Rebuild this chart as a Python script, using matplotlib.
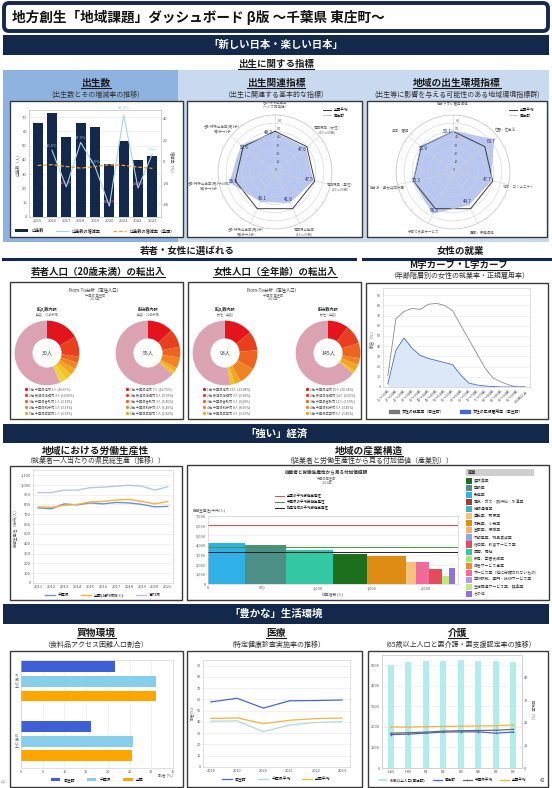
import numpy as np
import matplotlib
matplotlib.use('Agg')
import matplotlib.pyplot as plt
import matplotlib.patches as mpatches
from matplotlib.ticker import FuncFormatter

plt.rcParams['font.family'] = ['Noto Sans CJK JP', 'DejaVu Sans']
plt.rcParams['axes.unicode_minus'] = False

W, H = 552, 788
navy = '#14284b'

# ---------------- data ----------------
birth_years = ['2015', '2016', '2017', '2018', '2019', '2020', '2021', '2022', '2023']
births = [66, 73, 56, 66, 63, 37, 53, 40, 43]
birth_rate = [np.nan, 10.6, -23.3, 17.9, -4.5, -41.3, 43.2, -24.5, 7.5]
birth_rate_japan = [-3.5, -2.8, -4.5, -6.0, -4.5, -2.8, -3.5, -5.0, -6.2]

radar1_labels = ['合計特殊出生率\n（ベイズ推定値）', '有配偶率（女性）\n（25～39歳）', '有配偶率（男性）\n（25～39歳）',
                 '有配偶出生率\n（25～39歳）', '合計特殊出生率(第2子)\n第1子→2子', '合計特殊出生率(第3子以降)\n第2子→3子',
                 '合計特殊出生率(第1子)\n第0子→1子']
radar1_values = [48.2, 47.6, 47.5, 41.6, 40.1, 56.9, 52.6]
radar2_labels = ['働きやすい雇用環境', '住居・住生活', '地域・コミュニティ', '医療・保健環境',
                 '子育て支援サービス', '働き方・男女共同参画', '経済・雇用']
radar2_values = [50.1, 63.7, 47.7, 44.7, 56.3, 50.3, 50.9]
radar_avg = [50, 50, 50, 50, 50, 50, 50]

young_in = [5, 3, 1, 1, 1, 1, 1, 17]
young_out = [7, 5, 3, 3, 1, 1, 35]
female_in = [13, 9, 9, 8, 3, 2, 49]
female_out = [15, 14, 11, 5, 5, 2, 93]
young_in_legend = ['1位 千葉県旭市 5人 (16.67%)', '2位 茨城県神栖市 3人 (10.00%)', '3位 千葉県香取市 1人 (3.33%)',
                   '4位 千葉県銚子市 1人 (3.33%)', '5位 千葉県成田市 1人 (3.33%)']
young_out_legend = ['1位 千葉県旭市 7人 (12.73%)', '2位 茨城県神栖市 5人 (9.09%)', '3位 千葉県香取市 3人 (5.45%)',
                    '4位 千葉県銚子市 3人 (5.45%)', '5位 千葉県成田市 1人 (1.82%)']
female_in_legend = ['1位 千葉県旭市 13人 (13.98%)', '2位 茨城県神栖市 9人 (9.68%)', '3位 千葉県香取市 9人 (9.68%)',
                    '4位 千葉県銚子市 8人 (8.60%)', '5位 千葉県成田市 3人 (3.23%)']
female_out_legend = ['1位 千葉県旭市 15人 (10.34%)', '2位 茨城県神栖市 14人 (9.66%)', '3位 千葉県香取市 11人 (7.59%)',
                     '4位 千葉県銚子市 5人 (3.45%)', '5位 千葉県成田市 5人 (3.45%)']

age_groups = ['15～19歳', '20～24歳', '25～29歳', '30～34歳', '35～39歳', '40～44歳', '45～49歳', '50～54歳',
              '55～59歳', '60～64歳', '65～69歳', '70～74歳', '75～79歳', '80～84歳', '85～89歳', '90～94歳',
              '95～99歳', '100歳以上']
emp_rate = [11, 67, 74, 77, 76, 81, 82, 80, 75, 61, 47, 33, 19, 9, 5, 2, 0, 0]
reg_rate = [3, 36, 48, 38, 31, 28, 26, 24, 22, 12, 4, 2, 1, 0.5, 0, 0, 0, 0]

prod_years = list(range(2011, 2022))
prod_chiba = [765, 755, 805, 795, 815, 805, 820, 815, 800, 775, 780]
prod_japan = [775, 770, 790, 800, 825, 830, 845, 850, 830, 805, 830]
prod_tokyo = [920, 920, 945, 945, 970, 975, 985, 995, 985, 945, 980]

industry_names = ['農林漁業', '建設業', '製造業', '電気・ガス・熱供給・水道業', '情報通信業', '運輸業、郵便業',
                  '卸売業、小売業', '金融業、保険業', '不動産業、物品賃貸業', '宿泊業、飲食サービス業', '医療、福祉',
                  '教育、学習支援業', '複合サービス事業', 'サービス業（他に分類されないもの）',
                  '学術研究、専門・技術サービス業', '生活関連サービス業、娯楽業', 'その他']
industry_colors = ['#1d6e1d', '#4c8f86', '#2fb0e6', '#a33a3a', '#44b5b5', '#f7c27c', '#de8c14', '#f0b464',
                   '#8fa6e6', '#e44c5e', '#34c7a3', '#a9e27a', '#f2892e', '#ef6b9a', '#b39ae6', '#bdea78', '#9272d6']
bar_industries = ['製造業', '建設業', '医療、福祉', '農林漁業', '卸売業、小売業', '運輸業、郵便業',
                  'サービス業（他に分類されないもの）', '宿泊業、飲食サービス業', '生活関連サービス業、娯楽業', 'その他']
bar_workers = [336, 382, 427, 310, 363, 91, 118, 113, 65, 59]
bar_productivity = [4260, 4050, 3500, 3100, 2900, 2300, 2250, 1500, 850, 1650]
avg_lines = [6050, 3800, 3270]
avg_labels = ['全国の平均労働生産性', '千葉県の平均労働生産性', '指定地域の平均労働生産性']

shop_groups = ['75\n歳\n以\n上', '65\n歳\n以\n上']
shop_town = [21.7, 16.1]
shop_chiba = [31.0, 25.9]
shop_japan = [31.1, 25.6]

med_years = [2018, 2019, 2020, 2021, 2022, 2023]
med_town = [57.8, 61.0, 52.3, 58.8, 59.0, 59.5]
med_chiba = [40.6, 41.0, 31.3, 37.3, 39.5, 40.3]
med_japan = [43.1, 43.6, 38.5, 41.5, 43.0, 43.5]

care_years = ['H29', 'H30', 'R1', 'R2', 'R3', 'R4', 'R5', 'R6']
care_pop = [5030, 5150, 5195, 5230, 5240, 5230, 5210, 5180]
care_town = [14.8, 15.0, 15.4, 15.9, 16.0, 16.0, 15.4, 15.9]
care_chiba = [15.4, 15.6, 15.9, 16.3, 16.5, 16.6, 16.7, 17.1]
care_japan = [18.2, 18.1, 18.3, 18.4, 18.5, 18.6, 18.7, 19.1]

# ---------------- page ----------------
fig = plt.figure(figsize=(W / 100, H / 100), dpi=100)
fig.patch.set_facecolor('white')
bg = fig.add_axes([0, 0, 1, 1], zorder=-1)
bg.set_xlim(0, W)
bg.set_ylim(H, 0)
bg.axis('off')
renderer = fig.canvas.get_renderer()


def px_axes(x0, y0, x1, y1, **kw):
    return fig.add_axes([x0 / W, 1 - y1 / H, (x1 - x0) / W, (y1 - y0) / H], **kw)


def header(x, y, s, size=7, underline=True, color='#1a1a1a'):
    t = bg.text(x, y, s, ha='center', va='center', fontsize=size, fontweight='bold', color=color)
    if underline:
        bb = t.get_window_extent(renderer)
        bg.plot([bb.x0, bb.x1], [H - bb.y0 + 0.3] * 2, color=color, lw=0.8)


def sub(x, y, s, size=5):
    bg.text(x, y, s, ha='center', va='center', fontsize=size, color='#333333')


def band(y0, y1, s):
    bg.add_patch(mpatches.Rectangle((3, y0), W - 6, y1 - y0, color=navy, lw=0))
    bg.text(W / 2, (y0 + y1) / 2, s, ha='center', va='center', fontsize=7.5, fontweight='bold', color='white')


def box(x0, y0, x1, y1):
    bg.add_patch(mpatches.Rectangle((x0, y0), x1 - x0, y1 - y0, fc='white', ec='#3a3a3a', lw=1.0))


def style(ax, fs=3, grid='y'):
    ax.tick_params(labelsize=fs, length=0, pad=1.5, colors='#555555')
    for s in ax.spines.values():
        s.set_color('#c8c8c8')
        s.set_linewidth(0.4)
    if grid:
        ax.grid(axis=grid, color='#e6e6e6', lw=0.4)
    ax.set_axisbelow(True)


comma = FuncFormatter(lambda v, p: f'{v:,.0f}')

# title
bg.add_patch(mpatches.FancyBboxPatch((4, 3), 544, 28, boxstyle='round,pad=0,rounding_size=5',
                                     lw=2.8, ec=navy, fc='white'))
bg.text(12, 17.5, '地方創生「地域課題」ダッシュボード β版 ～千葉県 東庄町～', ha='left', va='center',
        fontsize=9.8, fontweight='bold', color='#111111')

band(35, 55, '「新しい日本・楽しい日本」')
header(W / 2, 63.5, '出生に関する指標', size=6.8)

bg.add_patch(mpatches.Rectangle((3, 70), 175, 172, color='#8fb3e0', lw=0))
bg.add_patch(mpatches.Rectangle((178, 70), W - 181, 172, color='#c9d9f0', lw=0))
header(96, 83, '出生数')
sub(96, 95, '(出生数とその増減率の推移)')
header(276, 83, '出生関連指標')
sub(276, 95, '（出生に関連する基本的な指標）')
header(457, 83, '地域の出生環境指標')
sub(457, 95, '(出生等に影響を与える可能性のある地域環境指標群)')
box(10, 101, 183, 237)
box(187, 101, 362, 237)
box(367, 101, 547, 237)

# --- births chart ---
ax = px_axes(29, 110, 161, 217)
x = np.arange(len(births))
ax.bar(x, births, width=0.7, color=navy, label='出生数')
ax.set_ylim(0, 75)
ax.set_yticks(range(0, 71, 10))
ax.set_xticks(x, birth_years)
ax.set_xlim(-0.6, len(births) - 0.4)
ax.set_ylabel('出生数（人）', fontsize=3, labelpad=2, color='#555555')
style(ax)
ax2 = ax.twinx()
ax2.plot(x, birth_rate, color='#a9d3ea', lw=0.8, label='出生数の増減率')
ax2.plot(x, birth_rate_japan, color='#e8a33a', lw=0.9, ls=(0, (3, 1.5)), label='出生数の増減率（全国）')
ax2.set_ylim(-51.4, 48)
ax2.set_yticks([-40, -20, 0, 20, 40])
ax2.set_ylabel('増減率（%）', rotation=270, fontsize=3, labelpad=4, color='#555555')
style(ax2, grid=None)
for xi, v in zip(x, birth_rate):
    if np.isnan(v):
        continue
    c = '#9cc6e6' if v > -10 else '#f2a0b4'
    ax2.annotate(f'{v:.1f}%', (xi, v), xytext=(0, 4 if v > 40 else 1.5), textcoords='offset points',
                 ha='center', va='bottom', fontsize=3, color=c, annotation_clip=False)
h1, l1 = ax.get_legend_handles_labels()
h2, l2 = ax2.get_legend_handles_labels()
ax.legend(h1 + h2, l1 + l2, loc='upper center', bbox_to_anchor=(0.5, -0.07), ncol=3, fontsize=3,
          frameon=False, handlelength=3, columnspacing=3)


# --- radar charts ---
def radar(cx, cy, r, labels, values, leg_xy):
    ax = px_axes(cx - r, cy - r, cx + r, cy + r, projection='polar')
    ang = np.linspace(0, 2 * np.pi, len(values), endpoint=False)
    ax.set_theta_offset(np.pi / 2)
    ax.set_theta_direction(-1)
    a = np.append(ang, ang[0])
    ax.plot(a, np.append(radar_avg, radar_avg[0]), color='#3c3c3c', lw=0.7, label='全国平均')
    v = np.append(values, values[0])
    ax.fill(a, v, color='#8aa3ea', alpha=0.6, lw=0)
    ax.plot(a, v, color='#b8c4dc', lw=0.6, label='東庄町')
    ax.set_ylim(0, 70)
    ax.set_yticks(range(0, 71, 10))
    ax.set_yticklabels([str(t) for t in range(0, 61, 10)] + [''], fontsize=2.8, color='#555555')
    ax.set_rlabel_position(3)
    ax.set_xticks(ang)
    ax.set_xticklabels(labels, fontsize=2.5, color='#666666')
    ax.tick_params(axis='x', pad=-3)
    ax.grid(color='#d2d2d2', lw=0.4)
    ax.spines['polar'].set_color('#c0c0c0')
    ax.spines['polar'].set_linewidth(0.4)
    for t, val in zip(ang, values):
        if t == 0:
            ax.annotate(f'{val:.1f}', (t, val), xytext=(-1.2, 0), textcoords='offset points',
                        fontsize=3.3, color='#1f2f78', ha='right', va='center')
        else:
            ax.text(t, val - 4, f'{val:.1f}', fontsize=3.3, color='#1f2f78', ha='center', va='center')
    ax.legend(loc='upper right', bbox_to_anchor=(leg_xy[0] / W, 1 - leg_xy[1] / H), bbox_transform=fig.transFigure,
              fontsize=2.6, frameon=False, handlelength=2.2, labelspacing=0.3)


radar(275, 172, 57, radar1_labels, radar1_values, (352, 105))
radar(453, 172, 57, radar2_labels, radar2_values, (538, 105))

# ---------------- 若者・女性 ----------------
header(187, 251, '若者・女性に選ばれる', size=6.8, underline=False)
bg.plot([3, 355], [258.5, 258.5], color=navy, lw=2.2)
header(460, 251, '女性の就業', size=6.8, underline=False)
bg.plot([363, 550], [258.5, 258.5], color=navy, lw=2.2)
header(98, 272, '若者人口（20歳未満）の転出入', size=6.8)
header(275, 272, '女性人口（全年齢）の転出入', size=6.8)
header(459, 265, 'M字カーブ・L字カーブ', size=6.8)
sub(459, 276, '（年齢階層別の女性の就業率・正規雇用率）')
box(10, 282, 183, 419)
box(188, 282, 361, 419)
box(366, 283, 548, 419)

slice_colors = ['#e3141c', '#e8401e', '#ec6420', '#f08422', '#f3a424', '#f4c024', '#efd33a']
pink = '#dba3b2'


def donut(cx, cy, r, values, center):
    ax = px_axes(cx - r, cy - r, cx + r, cy + r)
    cols = slice_colors[:len(values) - 1] + [pink]
    ax.pie(values, colors=cols, startangle=90, counterclock=False, radius=1,
           wedgeprops=dict(width=0.55, edgecolor='none'))
    ax.set_xlim(-1.02, 1.02)
    ax.set_ylim(-1.02, 1.02)
    ax.text(0, 0, center, ha='center', va='center', fontsize=3.8, color='#333333')


def donut_legend(x, y, entries):
    for i, s in enumerate(entries):
        bg.plot(x, y + i * 6, marker='o', ms=1.3, color=slice_colors[i], lw=0)
        bg.text(x + 3, y + i * 6, s, fontsize=2.3, va='center', color='#555555')


for (tx, cl, cr, vin, vout, lin, lout, subtxt, tot_in, tot_out) in [
        (95, 47, 148, young_in, young_out, young_in_legend, young_out_legend, '(全数・20歳未満)', '30人', '55人'),
        (273, 225, 328, female_in, female_out, female_in_legend, female_out_legend, '(女性・全数)', '93人', '145人')]:
    bg.text(tx, 290, 'From-To分析（定住人口）', ha='center', va='center', fontsize=3.2, color='#333333')
    bg.text(tx, 295, '千葉県 東庄町', ha='center', va='center', fontsize=2.3, color='#666666')
    bg.text(tx, 299, '2023年', ha='center', va='center', fontsize=2.3, color='#666666')
    bg.text(cl, 309, '転入数内訳', ha='center', va='center', fontsize=3, fontweight='bold', color='#333333')
    bg.text(cl, 314, subtxt, ha='center', va='center', fontsize=2.2, color='#777777')
    bg.text(cr, 309, '転出数内訳', ha='center', va='center', fontsize=3, fontweight='bold', color='#333333')
    bg.text(cr, 314, subtxt, ha='center', va='center', fontsize=2.2, color='#777777')
    donut(cl, 353, 33, vin, tot_in)
    donut(cr, 353, 33, vout, tot_out)
    donut_legend(cl - 21, 389, lin)
    donut_legend(cr - 21, 389, lout)

# --- M / L curve ---
ax = px_axes(383, 288, 530, 387)
xa = np.arange(len(age_groups))
ax.plot(xa, emp_rate, color='#8c8c8c', lw=0.6)
ax.fill_between(xa, reg_rate, color='#dce8f8', lw=0)
ax.plot(xa, reg_rate, color='#4a66d0', lw=0.6)
ax.set_xlim(-0.6, len(age_groups) - 0.4)
ax.set_ylim(0, 97)
ax.set_yticks(range(0, 91, 10))
ax.set_xticks(xa, age_groups, rotation=45, ha='right', rotation_mode='anchor')
ax.set_ylabel('割合（%）', fontsize=3, labelpad=2, color='#555555')
style(ax, fs=2.7)
ax.legend([mpatches.Patch(color='#7a7a7a'), mpatches.Patch(color='#4a66d0')],
          ['女性の就業率（東庄町）', '女性の正規雇用率（東庄町）'], loc='upper center',
          bbox_to_anchor=(0.5, -0.19), ncol=2, fontsize=2.8, frameon=False, handlelength=2.5,
          handleheight=0.5, columnspacing=4)

# ---------------- 「強い」経済 ----------------
band(424, 443, '「強い」経済')
header(95, 451, '地域における労働生産性')
sub(95, 461, '（就業者一人当たりの県民総生産（推移））')
header(369, 451, '地域の産業構造')
sub(369, 461, '（従業者と労働生産性から見る付加価値（産業別））')
box(10, 466, 182, 600)
box(187, 465, 549, 600)

ax = px_axes(33, 470, 173, 583)
ax.plot(prod_years, prod_chiba, color='#6d8fd8', lw=1.0, label='千葉県')
ax.plot(prod_years, prod_japan, color='#f2b43c', lw=1.0, label='全国(1都3県除く)')
ax.plot(prod_years, prod_tokyo, color='#b9c6e2', lw=1.0, label='1都3県')
ax.set_ylim(0, 1150)
ax.set_yticks(range(0, 1101, 100))
ax.yaxis.set_major_formatter(comma)
ax.set_xticks(prod_years)
ax.set_xlim(2010.6, 2021.4)
ax.set_ylabel('労働生産性（万円/人）', fontsize=2.8, labelpad=2, color='#555555')
style(ax, fs=2.9)
ax.legend(loc='upper center', bbox_to_anchor=(0.5, -0.06), ncol=3, fontsize=2.8, frameon=False,
          handlelength=2.5, columnspacing=3)

# industry structure
ax = px_axes(208, 516, 458, 584)
lefts = np.concatenate([[0], np.cumsum(bar_workers)[:-1]])
cmap = dict(zip(industry_names, industry_colors))
ax.bar(lefts, bar_productivity, width=bar_workers, align='edge', color=[cmap[n] for n in bar_industries], lw=0)
line_cols = ['#e04a4a', '#3f9a3f', '#222222']
for val, c, lab in zip(avg_lines, line_cols, avg_labels):
    ax.axhline(val, color=c, lw=0.7, label=lab)
ax.set_xlim(0, 2290)
ax.set_ylim(0, 7000)
ax.set_yticks(range(0, 7001, 1000))
ax.set_xticks([0, 500, 1000, 1500, 2000])
ax.xaxis.set_major_formatter(comma)
ax.yaxis.set_major_formatter(comma)
style(ax, fs=2.8)
ax.set_xlabel('従業者数(人)', fontsize=2.8, labelpad=2, color='#555555')
ax.legend(loc='upper left', bbox_to_anchor=(272 / W, 1 - 491 / H), bbox_transform=fig.transFigure,
          fontsize=2.5, frameon=False, handlelength=2.5, labelspacing=0.5)
bg.text(193, 511, '労働生産性(千円/人)', fontsize=2.6, color='#555555', va='center')
bg.text(327, 473, '従業者と労働生産性から見る付加価値額', ha='center', va='center', fontsize=3.3,
        fontweight='bold', color='#333333')
bg.text(327, 478.5, '千葉県東庄町', ha='center', va='center', fontsize=2.3, color='#666666')
bg.text(327, 483, '2021年', ha='center', va='center', fontsize=2.3, color='#666666')

bg.add_patch(mpatches.Rectangle((466, 469), 68, 7, color='#cfcfcf', lw=0))
bg.text(468, 472.5, '産業', fontsize=3, fontweight='bold', va='center', color='#333333')
for i, (n, c) in enumerate(zip(industry_names, industry_colors)):
    yy = 477.5 + i * 7.1
    bg.add_patch(mpatches.Rectangle((466, yy), 6, 6.2, color=c, lw=0))
    bg.text(474, yy + 3.2, n, fontsize=2.8, va='center', color='#333333')

# ---------------- 「豊かな」生活環境 ----------------
band(604, 624, '「豊かな」生活環境')
header(96, 633, '買物環境')
sub(96, 645, '（食料品アクセス困難人口割合）')
header(276, 633, '医療')
sub(276, 645, '（特定健康診査実施率の推移）')
header(458, 633, '介護')
sub(458, 645, '（65歳以上人口と要介護・要支援認定率の推移）')
box(10, 651, 183, 787)
box(187, 651, 362, 787)
box(368, 651, 548, 787)

ax = px_axes(21, 660, 173, 768)
yg = np.arange(len(shop_groups))
ax.barh(yg - 0.245, shop_town, height=0.18, color='#3f5fd6', label='東庄町')
ax.barh(yg, shop_chiba, height=0.18, color='#87ceeb', label='千葉県')
ax.barh(yg + 0.245, shop_japan, height=0.18, color='#ffa500', label='全国')
ax.set_ylim(1.45, -0.36)
ax.set_xlim(0, 35)
ax.set_xticks(range(0, 36, 5))
ax.set_yticks(yg, shop_groups)
for t in ax.get_yticklabels():
    t.set_linespacing(0.9)
style(ax, fs=2.8, grid='x')
ax.text(1.0, -0.045, '割合 [%]', transform=ax.transAxes, ha='right', va='top', fontsize=2.8, color='#555555')
ax.legend(loc='upper center', bbox_to_anchor=(0.5, -0.06), ncol=3, fontsize=2.8, frameon=False,
          handlelength=2.5, handleheight=0.5, columnspacing=3)

ax = px_axes(203, 660, 350, 767)
ax.plot(med_years, med_town, color='#4a66c8', lw=0.9, label='東庄町')
ax.plot(med_years, med_chiba, color='#b6d4ee', lw=0.9, label='千葉県平均')
ax.plot(med_years, med_japan, color='#f2b43c', lw=0.9, label='全国平均')
ax.set_ylim(0, 95)
ax.set_yticks(range(0, 91, 10))
ax.set_xlim(2017.7, 2023.3)
ax.set_xticks(med_years)
ax.set_ylabel('割合(%)', fontsize=2.8, labelpad=2, color='#555555')
style(ax, fs=2.8)
ax.legend(loc='upper center', bbox_to_anchor=(0.5, -0.06), ncol=3, fontsize=2.8, frameon=False,
          handlelength=2.5, columnspacing=3)

ax = px_axes(382, 655, 522, 768)
xc = np.arange(len(care_years))
ax.bar(xc, care_pop, width=0.35, color='#b3ecec', label='65歳以上人口(東庄町)')
ax.set_ylim(0, 5500)
ax.set_yticks(range(0, 5001, 1000))
ax.set_xticks(xc, care_years)
ax.set_xlim(-0.5, len(care_years) - 0.5)
style(ax, fs=2.8)
ax2 = ax.twinx()
ax2.plot(xc, care_town, color='#4a66c8', lw=0.9, marker='+', ms=1.5, mew=0.4, label='東庄町')
ax2.plot(xc, care_chiba, color='#6a6a78', lw=0.9, marker='+', ms=1.5, mew=0.4, label='千葉県平均')
ax2.plot(xc, care_japan, color='#f2b43c', lw=0.9, marker='+', ms=1.5, mew=0.4, label='全国平均')
ax2.set_ylim(0, 50)
ax2.set_yticks(range(0, 41, 10))
ax2.set_ylabel('認定率（%）', rotation=270, fontsize=2.8, labelpad=4, color='#555555')
style(ax2, fs=2.8, grid=None)
h1, l1 = ax.get_legend_handles_labels()
h2, l2 = ax2.get_legend_handles_labels()
ax.legend(h1 + h2, l1 + l2, loc='upper center', bbox_to_anchor=(0.5, -0.06), ncol=4, fontsize=2.6,
          frameon=False, handlelength=2.5, columnspacing=2)

bg.text(543, 781, '42', ha='center', va='center', fontsize=3.5, color='#444444')
bg.text(1, 782, '1.2', ha='left', va='center', fontsize=2.5, color='#666666')

fig.savefig('out.png', dpi=100)
